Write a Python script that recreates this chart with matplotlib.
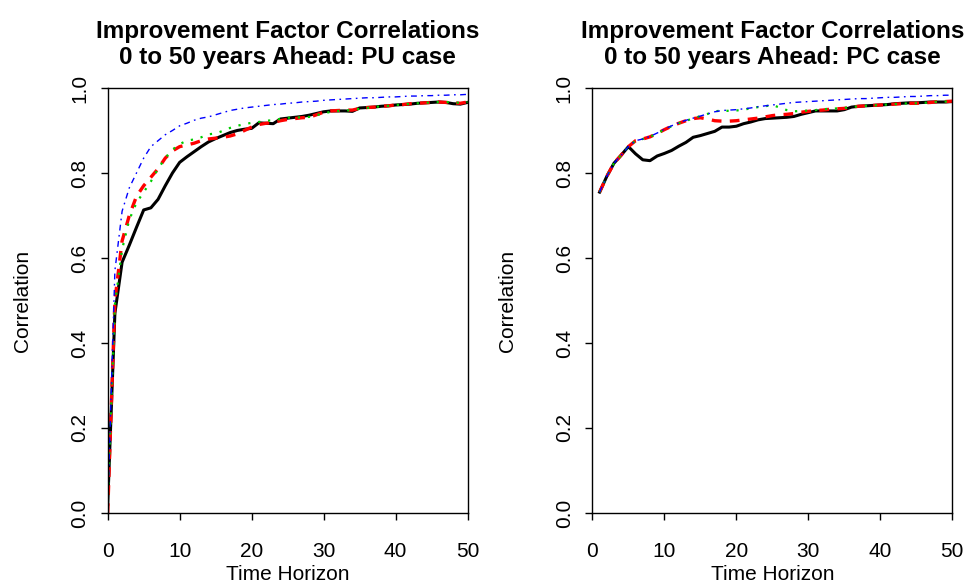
#
# plot.py : improvement factor correlations, PU and PC cases

import numpy as np
import matplotlib
matplotlib.use('Agg')
import matplotlib.pyplot as plt

plt.rcParams['font.family'] = ['Liberation Sans', 'DejaVu Sans']
plt.rcParams['lines.scale_dashes'] = False

# PU case : horizons 0..50
pu_years = list(range(0, 51))
pu_black = [0.02, 0.47, 0.59, 0.63, 0.672, 0.713, 0.718, 0.738, 0.77, 0.80,
            0.825, 0.838, 0.85, 0.862, 0.873, 0.881, 0.888, 0.895, 0.90, 0.903,
            0.905, 0.918, 0.917, 0.916, 0.927, 0.929, 0.931, 0.933, 0.936, 0.94,
            0.944, 0.946, 0.946, 0.946, 0.945, 0.953, 0.954, 0.955, 0.957, 0.958,
            0.96, 0.961, 0.962, 0.964, 0.965, 0.966, 0.967, 0.966, 0.963, 0.962,
            0.966]
pu_red = [0.0, 0.50, 0.64, 0.70, 0.745, 0.77, 0.79, 0.81, 0.835, 0.852,
          0.862, 0.866, 0.870, 0.876, 0.880, 0.882, 0.884, 0.887, 0.892, 0.900,
          0.908, 0.914, 0.917, 0.919, 0.923, 0.926, 0.928, 0.930, 0.931, 0.937,
          0.943, 0.946, 0.947, 0.948, 0.948, 0.952, 0.954, 0.955, 0.957, 0.958,
          0.960, 0.961, 0.963, 0.964, 0.965, 0.966, 0.967, 0.966, 0.965, 0.964,
          0.967]
pu_green = [0.02, 0.49, 0.62, 0.69, 0.73, 0.755, 0.78, 0.81, 0.835, 0.855,
            0.868, 0.876, 0.879, 0.884, 0.891, 0.893, 0.899, 0.906, 0.911, 0.915,
            0.918, 0.920, 0.923, 0.924, 0.927, 0.930, 0.930, 0.931, 0.932, 0.936,
            0.940, 0.944, 0.946, 0.947, 0.948, 0.951, 0.953, 0.955, 0.957, 0.958,
            0.960, 0.961, 0.963, 0.964, 0.965, 0.966, 0.967, 0.967, 0.966, 0.965,
            0.967]
pu_blue = [0.01, 0.57, 0.71, 0.765, 0.80, 0.835, 0.862, 0.876, 0.89, 0.90,
           0.911, 0.917, 0.924, 0.929, 0.932, 0.937, 0.942, 0.947, 0.950, 0.953,
           0.955, 0.957, 0.959, 0.961, 0.962, 0.964, 0.965, 0.967, 0.968, 0.969,
           0.971, 0.972, 0.973, 0.974, 0.975, 0.976, 0.977, 0.977, 0.978, 0.979,
           0.979, 0.980, 0.981, 0.981, 0.982, 0.982, 0.983, 0.983, 0.984, 0.984,
           0.985]

# PC case : horizons 1..50
pc_years = list(range(1, 51))
pc_black = [0.755, 0.792, 0.823, 0.842, 0.862, 0.845, 0.831, 0.829, 0.840, 0.846,
            0.853, 0.863, 0.872, 0.884, 0.888, 0.893, 0.898, 0.908, 0.908, 0.910,
            0.916, 0.920, 0.925, 0.928, 0.929, 0.930, 0.931, 0.933, 0.938, 0.942,
            0.946, 0.946, 0.946, 0.946, 0.949, 0.955, 0.957, 0.958, 0.959, 0.960,
            0.961, 0.963, 0.964, 0.965, 0.965, 0.966, 0.967, 0.967, 0.967, 0.968]
pc_red = [0.755, 0.792, 0.823, 0.842, 0.862, 0.876, 0.880, 0.885, 0.893, 0.902,
          0.910, 0.917, 0.923, 0.928, 0.930, 0.927, 0.923, 0.922, 0.922, 0.923,
          0.925, 0.927, 0.929, 0.932, 0.935, 0.937, 0.938, 0.940, 0.943, 0.945,
          0.947, 0.948, 0.950, 0.951, 0.952, 0.955, 0.957, 0.958, 0.959, 0.960,
          0.961, 0.962, 0.963, 0.964, 0.964, 0.965, 0.966, 0.968, 0.968, 0.969]
pc_green = [0.755, 0.792, 0.823, 0.842, 0.862, 0.876, 0.880, 0.885, 0.893, 0.902,
            0.910, 0.917, 0.923, 0.928, 0.934, 0.939, 0.945, 0.947, 0.946, 0.947,
            0.949, 0.952, 0.955, 0.957, 0.960, 0.954, 0.948, 0.945, 0.946, 0.947,
            0.948, 0.950, 0.951, 0.952, 0.953, 0.955, 0.957, 0.958, 0.959, 0.960,
            0.961, 0.962, 0.963, 0.964, 0.964, 0.965, 0.966, 0.968, 0.968, 0.969]
pc_blue = [0.755, 0.792, 0.823, 0.842, 0.862, 0.876, 0.880, 0.886, 0.894, 0.903,
           0.911, 0.918, 0.924, 0.929, 0.934, 0.939, 0.944, 0.947, 0.948, 0.949,
           0.951, 0.953, 0.956, 0.958, 0.960, 0.962, 0.964, 0.966, 0.967, 0.968,
           0.969, 0.970, 0.971, 0.972, 0.973, 0.974, 0.975, 0.975, 0.976, 0.977,
           0.978, 0.978, 0.979, 0.980, 0.980, 0.981, 0.982, 0.982, 0.983, 0.983]

titles = ['Improvement Factor Correlations\n0 to 50 years Ahead: PU case',
          'Improvement Factor Correlations\n0 to 50 years Ahead: PC case']
x_ticks = [0, 10, 20, 30, 40, 50]
y_ticks = [0.0, 0.2, 0.4, 0.6, 0.8, 1.0]


def draw_panel(ax, x, black, red, green, blue, title):
  ax.plot(x, black, color='black', lw=2.2, solid_joinstyle='round')
  ax.plot(x, red, color='#ff0000', lw=2.4, dashes=(7, 6))
  ax.plot(x, green, color='#00cd00', lw=1.6, dashes=(1.6, 5.6))
  ax.plot(x, blue, color='#0000ff', lw=1.0, dashes=(4.2, 3.2, 1.2, 3.2))
  ax.set_xlim(0, 50)
  ax.set_ylim(0, 1)
  ax.set_xticks(x_ticks)
  ax.set_yticks(y_ticks)
  ax.set_yticklabels(['%.1f' % v for v in y_ticks])
  ax.tick_params(direction='out', length=5, width=1, labelsize=15, color='black')
  ax.tick_params(axis='x', pad=16)
  ax.tick_params(axis='y', pad=8.5, labelrotation=90)
  for lab in ax.get_yticklabels():
    lab.set_va('center')
  for s in ax.spines.values():
    s.set_linewidth(1.0)
    s.set_color('black')
  ax.set_xlabel('Time Horizon', fontsize=15, labelpad=2.5)
  ax.set_ylabel('Correlation', fontsize=15, labelpad=27)
  ax.set_title(title, fontsize=17.5, fontweight='bold', pad=17, linespacing=1.2)


fig, axes = plt.subplots(1, 2, figsize=(9.65, 5.85), dpi=100)
fig.subplots_adjust(left=0.1116, right=0.9868, bottom=0.1231, top=0.8496, wspace=0.347)

draw_panel(axes[0], pu_years, pu_black, pu_red, pu_green, pu_blue, titles[0])
draw_panel(axes[1], pc_years, pc_black, pc_red, pc_green, pc_blue, titles[1])

fig.savefig('out.png', dpi=100)
